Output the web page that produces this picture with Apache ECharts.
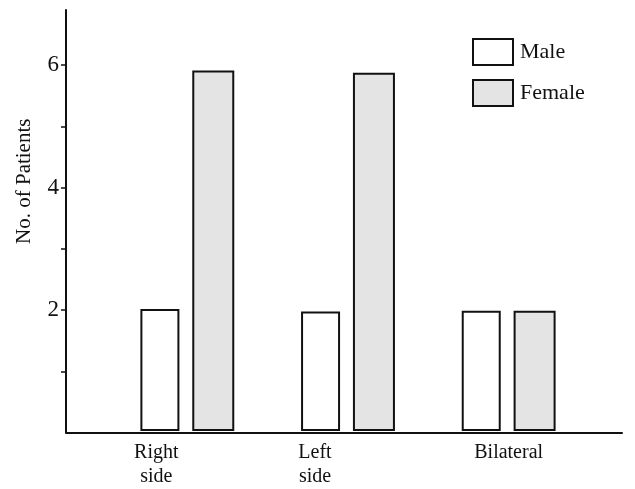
<!DOCTYPE html>
<html>
<head>
<meta charset="utf-8">
<script src="https://cdn.jsdelivr.net/npm/echarts@6/dist/echarts.min.js"></script>
<style>html,body{margin:0;padding:0;background:#fff}#c{width:635px;height:489px}</style>
</head>
<body>
<div id="c"></div>
<script>
var categories = ['Right\nside', 'Left\nside', 'Bilateral'];
var maleValues = [2.0, 1.96, 1.97];
var femaleValues = [5.91, 5.87, 1.97];
var yTickValues = [1, 2, 3, 4, 5, 6];
var yLabelValues = [2, 4, 6];
var labelShift = [62, 66, 0];

var serif = '"Liberation Serif", "DejaVu Serif", serif';
var chart = echarts.init(document.getElementById('c'), null, {renderer: 'canvas'});
chart.setOption({
  animation: false,
  backgroundColor: '#fff',
  grid: [
    {left: 107, right: 46, top: 10, bottom: 56.5},
    {left: 66, right: 13, top: 10, bottom: 56.5}
  ],
  legend: {
    orient: 'vertical', left: 472, top: 38, padding: 0, itemWidth: 40, itemHeight: 26, itemGap: 13,
    icon: 'rect',
    textStyle: {fontFamily: serif, fontSize: 22, color: '#111', padding: [0, 0, 0, 2]},
    data: ['Male', 'Female']
  },
  xAxis: [
    {
      type: 'category', gridIndex: 0, data: categories.map(function (c, i) {
        return {value: c, textStyle: {padding: [0, labelShift[i], 0, 0]}};
      }),
      axisLine: {show: false}, axisTick: {show: false},
      axisLabel: {fontFamily: serif, fontSize: 20, color: '#111', margin: 10, lineHeight: 24}
    },
    {
      type: 'value', gridIndex: 1, min: 0, max: 1,
      axisLine: {show: true, lineStyle: {color: '#111', width: 2}},
      axisTick: {show: false}, axisLabel: {show: false}, splitLine: {show: false}
    }
  ],
  yAxis: [
    {type: 'value', gridIndex: 0, min: 0, max: 6.9, show: false},
    {
      type: 'value', gridIndex: 1, min: 0, max: 6.9,
      name: 'No. of Patients', nameLocation: 'middle', nameGap: 31, nameRotate: 90,
      nameTextStyle: {fontFamily: serif, fontSize: 21, color: '#111', padding: [0, 0, 0, 80]},
      axisLine: {show: true, lineStyle: {color: '#111', width: 2}},
      axisTick: {show: true, inside: false, length: 5, lineStyle: {color: '#111', width: 1.5}, customValues: yTickValues},
      axisLabel: {fontFamily: serif, fontSize: 23, color: '#111', margin: 7, customValues: yLabelValues},
      splitLine: {show: false}
    }
  ],
  series: [
    {
      name: 'Male', type: 'bar', xAxisIndex: 0, yAxisIndex: 0, data: maleValues,
      barWidth: 39, barGap: '33%',
      itemStyle: {color: '#ffffff', borderColor: '#111', borderWidth: 2}
    },
    {
      name: 'Female', type: 'bar', xAxisIndex: 0, yAxisIndex: 0, data: femaleValues,
      barWidth: 42,
      itemStyle: {color: '#e4e4e4', borderColor: '#111', borderWidth: 2}
    }
  ]
});
</script>
</body>
</html>
